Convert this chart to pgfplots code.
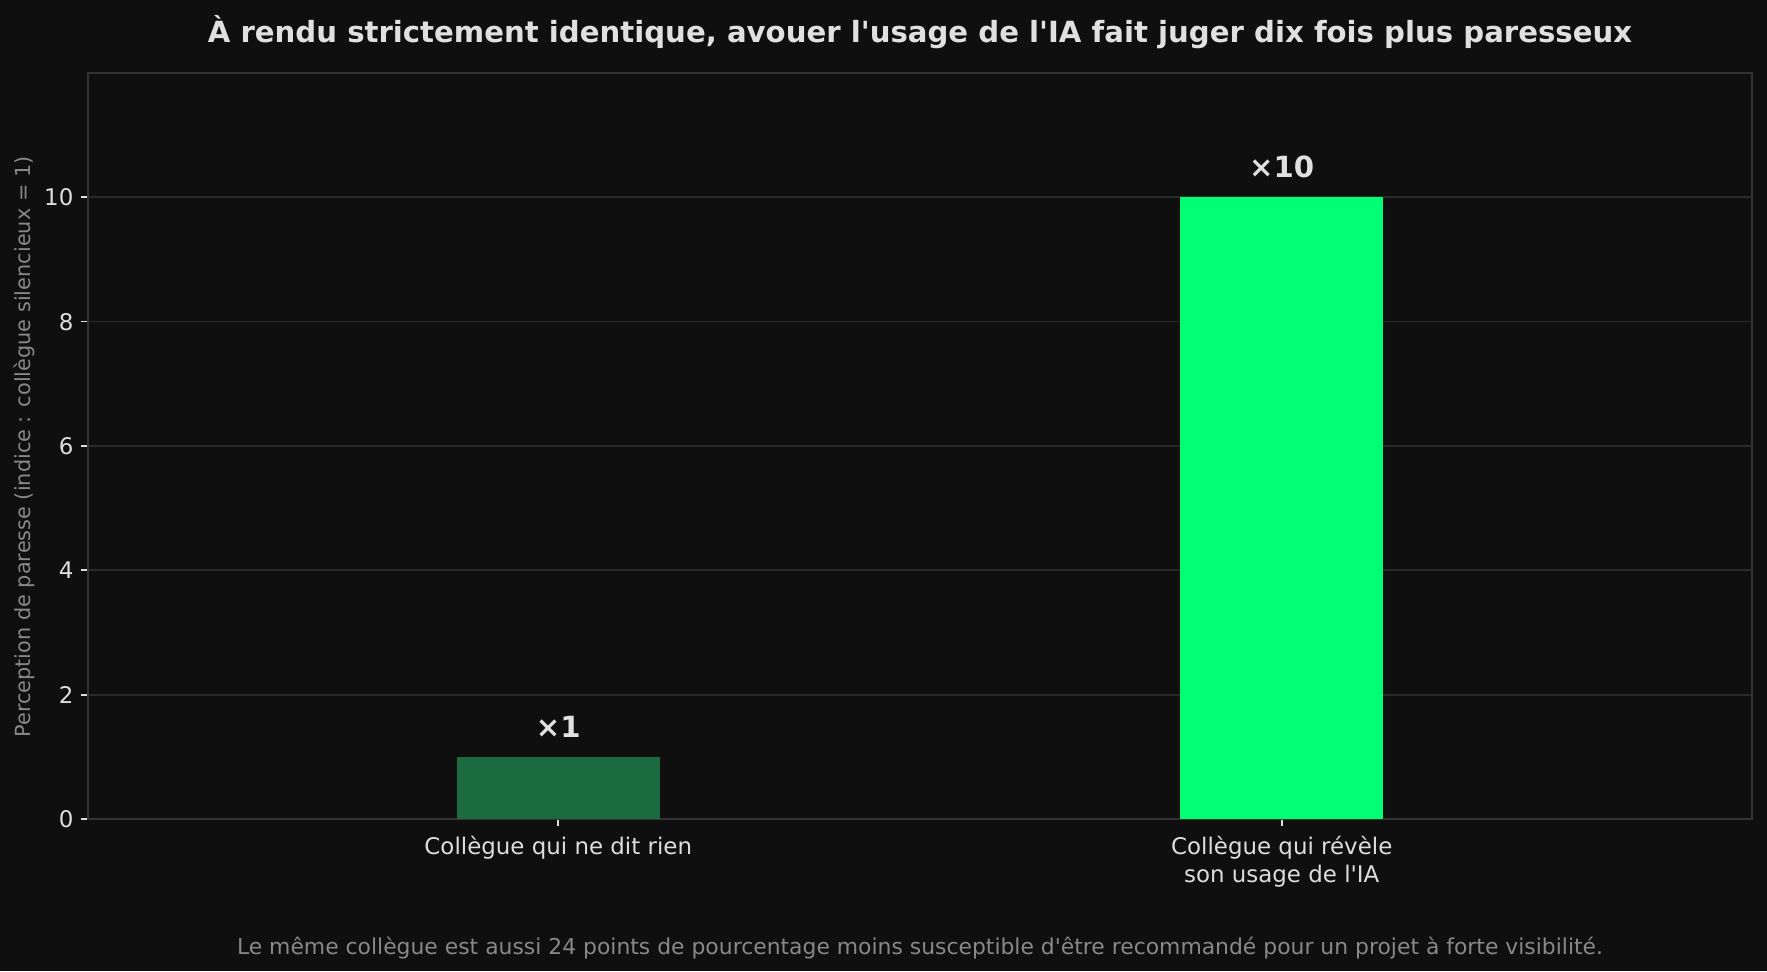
\documentclass[border=0pt]{standalone}
\usepackage{fontspec}
\setmainfont{DejaVu Sans}[Ligatures=TeXOff]
\usepackage{pgfplots}
\pgfplotsset{compat=1.18}
\definecolor{bgcol}{HTML}{0F0F0F}
\definecolor{gridcol}{HTML}{2A2A2A}
\definecolor{framecol}{HTML}{333333}
\definecolor{tickcol}{HTML}{DDDDDD}
\definecolor{titlecol}{HTML}{E0E0E0}
\definecolor{mutedcol}{HTML}{888888}
\definecolor{barone}{HTML}{1B6A40}
\definecolor{bartwo}{HTML}{00FF73}
\begin{document}
\begin{tikzpicture}
\fill[bgcol] (0,0) rectangle (848.16pt,466.08pt);
\begin{axis}[
  at={(42.24pt,72.96pt)}, anchor=south west,
  scale only axis, width=798.72pt, height=358.08pt,
  xmin=-0.65, xmax=1.65, ymin=0, ymax=12,
  ybar, bar width=0.28,
  xtick={0,1},
  xticklabels={Collègue qui ne dit rien, {Collègue qui révèle\\son usage de l'IA}},
  ytick={0,2,4,6,8,10},
  xticklabel style={align=center, font=\fontsize{11}{13.5}\selectfont, text=tickcol, yshift=-1pt},
  yticklabel style={font=\fontsize{11}{13.5}\selectfont, text=tickcol},
  /pgf/number format/assume math mode=true,
  axis line style={draw=framecol, line width=0.8pt},
  ymajorgrids, grid style={draw=gridcol, line width=0.8pt},
  major tick length=3.5pt, tick align=outside,
  xtick pos=lower, ytick pos=left,
  tick style={draw=tickcol, line width=0.8pt},
  axis background/.style={fill=bgcol},
  nodes near coords style={anchor=south, inner sep=0pt, yshift=9pt, font=\fontsize{14}{16}\selectfont\bfseries, text=titlecol},
]
\addplot[fill=barone, draw=none, bar shift=0pt, nodes near coords={×1}] coordinates {(0,1)};
\addplot[fill=bartwo, draw=none, bar shift=0pt, nodes near coords={×10}] coordinates {(1,10)};
\end{axis}
\node[font=\fontsize{14}{16}\selectfont\bfseries, text=titlecol] at (441.6pt,450.7pt) {À rendu strictement identique, avouer l'usage de l'IA fait juger dix fois plus paresseux};
\node[font=\fontsize{10.5}{12.5}\selectfont, text=mutedcol] at (441.6pt,11pt) {Le même collègue est aussi 24 points de pourcentage moins susceptible d'être recommandé pour un projet à forte visibilité.};
\node[rotate=90, font=\fontsize{10}{12}\selectfont, text=mutedcol] at (11.5pt,251.5pt) {Perception de paresse (indice : collègue silencieux = 1)};
\end{tikzpicture}
\end{document}
